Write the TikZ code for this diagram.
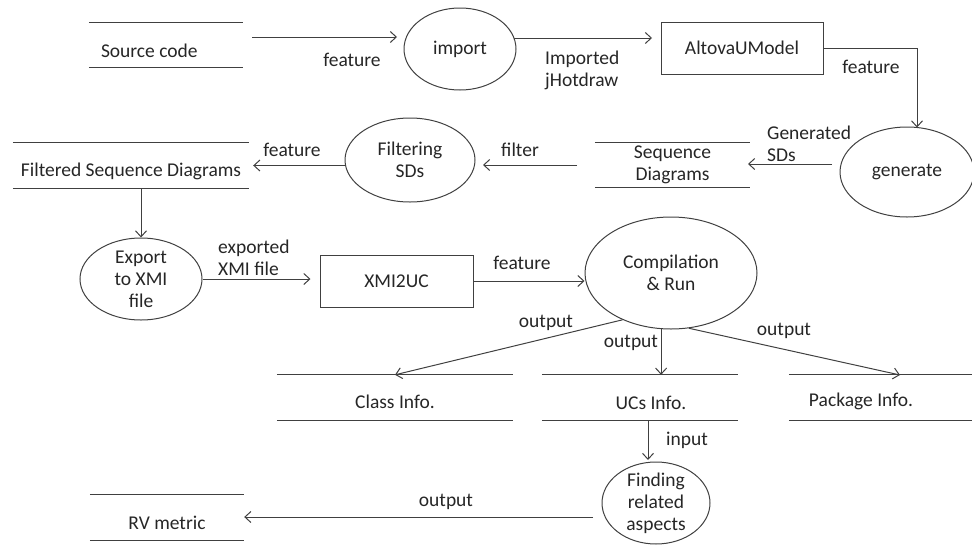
\documentclass[tikz,border=0pt]{standalone}
\usepackage{fontspec}
\setmainfont{Carlito}
\usetikzlibrary{arrows.meta,shapes.geometric,calc}
\begin{document}
\begin{tikzpicture}[x=1pt,y=-1pt,
  every node/.style={font=\fontsize{19.5}{22}\selectfont, text=black!85, inner sep=0pt},
  line/.style={draw=black!75, line width=1pt},
  arr/.style={line, -{Straight Barb[length=6pt,width=11pt,line width=1pt]}},
  store/.style={minimum height=45pt},
  proc/.style={ellipse, draw=black!75, line width=1pt, align=center},
  boxn/.style={rectangle, draw=black!75, line width=1pt},
  lab/.style={align=left}]
\useasboundingbox (0,0) rectangle (972,544);
% data stores
\node[store, minimum width=154pt] (src) at (166,45) {\raisebox{-6pt}[\height][\depth]{\makebox[130pt][l]{Source code}}};
\node[store, minimum width=236pt] (filt) at (131,165.5) {\raisebox{-6pt}[\height][\depth]{Filtered Sequence Diagrams}};
\node[store, minimum width=155pt, minimum height=44pt, align=center] (seq) at (672.5,165) {Sequence\\Diagrams};
\node[store, minimum width=236pt] (cls) at (395,397.5) {\raisebox{-4pt}[\height][\depth]{Class Info.}};
\node[store, minimum width=196pt] (ucs) at (640,397.5) {\raisebox{-5pt}[\height][\depth]{\hspace{22pt}UCs Info.}};
\node[store, minimum width=183pt] (pkg) at (880.5,397.5) {\raisebox{-4pt}[\height][\depth]{Package Info.\hspace{39pt}}};
\node[store, minimum width=154pt] (rv) at (167,517.5) {\raisebox{-5pt}[\height][\depth]{RV metric}};
\foreach \n in {src,filt,seq,cls,ucs,pkg,rv}
  \draw[line] (\n.north west) -- (\n.north east) (\n.south west) -- (\n.south east);
% processes
\node[proc, minimum width=112pt, minimum height=82pt] (imp) at (460,49) {import};
\node[proc, minimum width=134pt, minimum height=90pt] (gen) at (907,172) {generate};
\node[proc, minimum width=130pt, minimum height=84pt] (fsd) at (410,160) {Filtering\\SDs};
\node[proc, minimum width=122pt, minimum height=82pt, inner ysep=-8pt] (exp) at (141,279) {Export\\to XMI\\file};
\node[proc, minimum width=172pt, minimum height=112pt] (comp) at (671,273) {Compilation\\\& Run};
\node[proc, minimum width=108pt, minimum height=82pt, inner ysep=-8pt] (find) at (656,503) {Finding\\related\\aspects};
% boxes
\node[boxn, minimum width=162pt, minimum height=52pt] (alt) at (742,48) {AltovaUModel};
\node[boxn, minimum width=153pt, minimum height=52pt] (xmi) at (396.5,281) {XMI2UC};
% free ends
\coordinate (c1s) at (252,37);
\coordinate (c1e) at (397,37);
\coordinate (c2s) at (514,38);
\coordinate (c2e) at (652,38);
\coordinate (c3e) at (917,127.5);
\coordinate (c4s) at (832,164);
\coordinate (c4e) at (748,164);
\coordinate (c5s) at (577,165);
\coordinate (c5e) at (483,165);
\coordinate (c12e) at (900,375);
\coordinate (c13s) at (648,420);
\coordinate (c13e) at (648,460);
\coordinate (c14s) at (593,517);
% connectors
\draw[arr] (c1s) -- (c1e);
\draw[arr] (c2s) -- (c2e);
\draw[arr] (alt.east) -| (c3e);
\draw[arr] (c4s) -- (c4e);
\draw[arr] (c5s) -- (c5e);
\draw[arr] (fsd.west |- filt.east) -- ([xshift=4pt]filt.east);
\draw[arr] (filt.south -| exp.north) -- (exp.north);
\draw[arr] (exp.east) -- ++(108,0);
\draw[arr] (xmi.east) -- (xmi.east -| comp.west);
\draw[arr] (comp.-136) -- (cls.north);
\draw[arr] (comp.-100) -- (comp.-100 |- ucs.north);
\draw[arr] (comp.-72) -- (c12e);
\draw[arr] (c13s) -- (c13e);
\draw[arr] (c14s) -- (rv.east |- c14s);
% labels
\node (l1) at (352,60) {feature};
\node[lab, anchor=west] (l2) at (545,70.5) {Imported\\jHotdraw};
\node (l3) at (871,67) {feature};
\node[lab, anchor=west] (l4) at (767,144) {Generated\\SDs};
\node (l5) at (520,150) {filter};
\node (l6) at (292,150) {feature};
\node[lab, anchor=west] (l8) at (218,257.5) {exported\\XMI file};
\node (l9) at (522,263) {feature};
\node (l10) at (546,323) {output};
\node (l11) at (631,343) {output};
\node (l12) at (784,331) {output};
\node (l13) at (687,440) {input};
\node (l14) at (446,502) {output};
\end{tikzpicture}
\end{document}
